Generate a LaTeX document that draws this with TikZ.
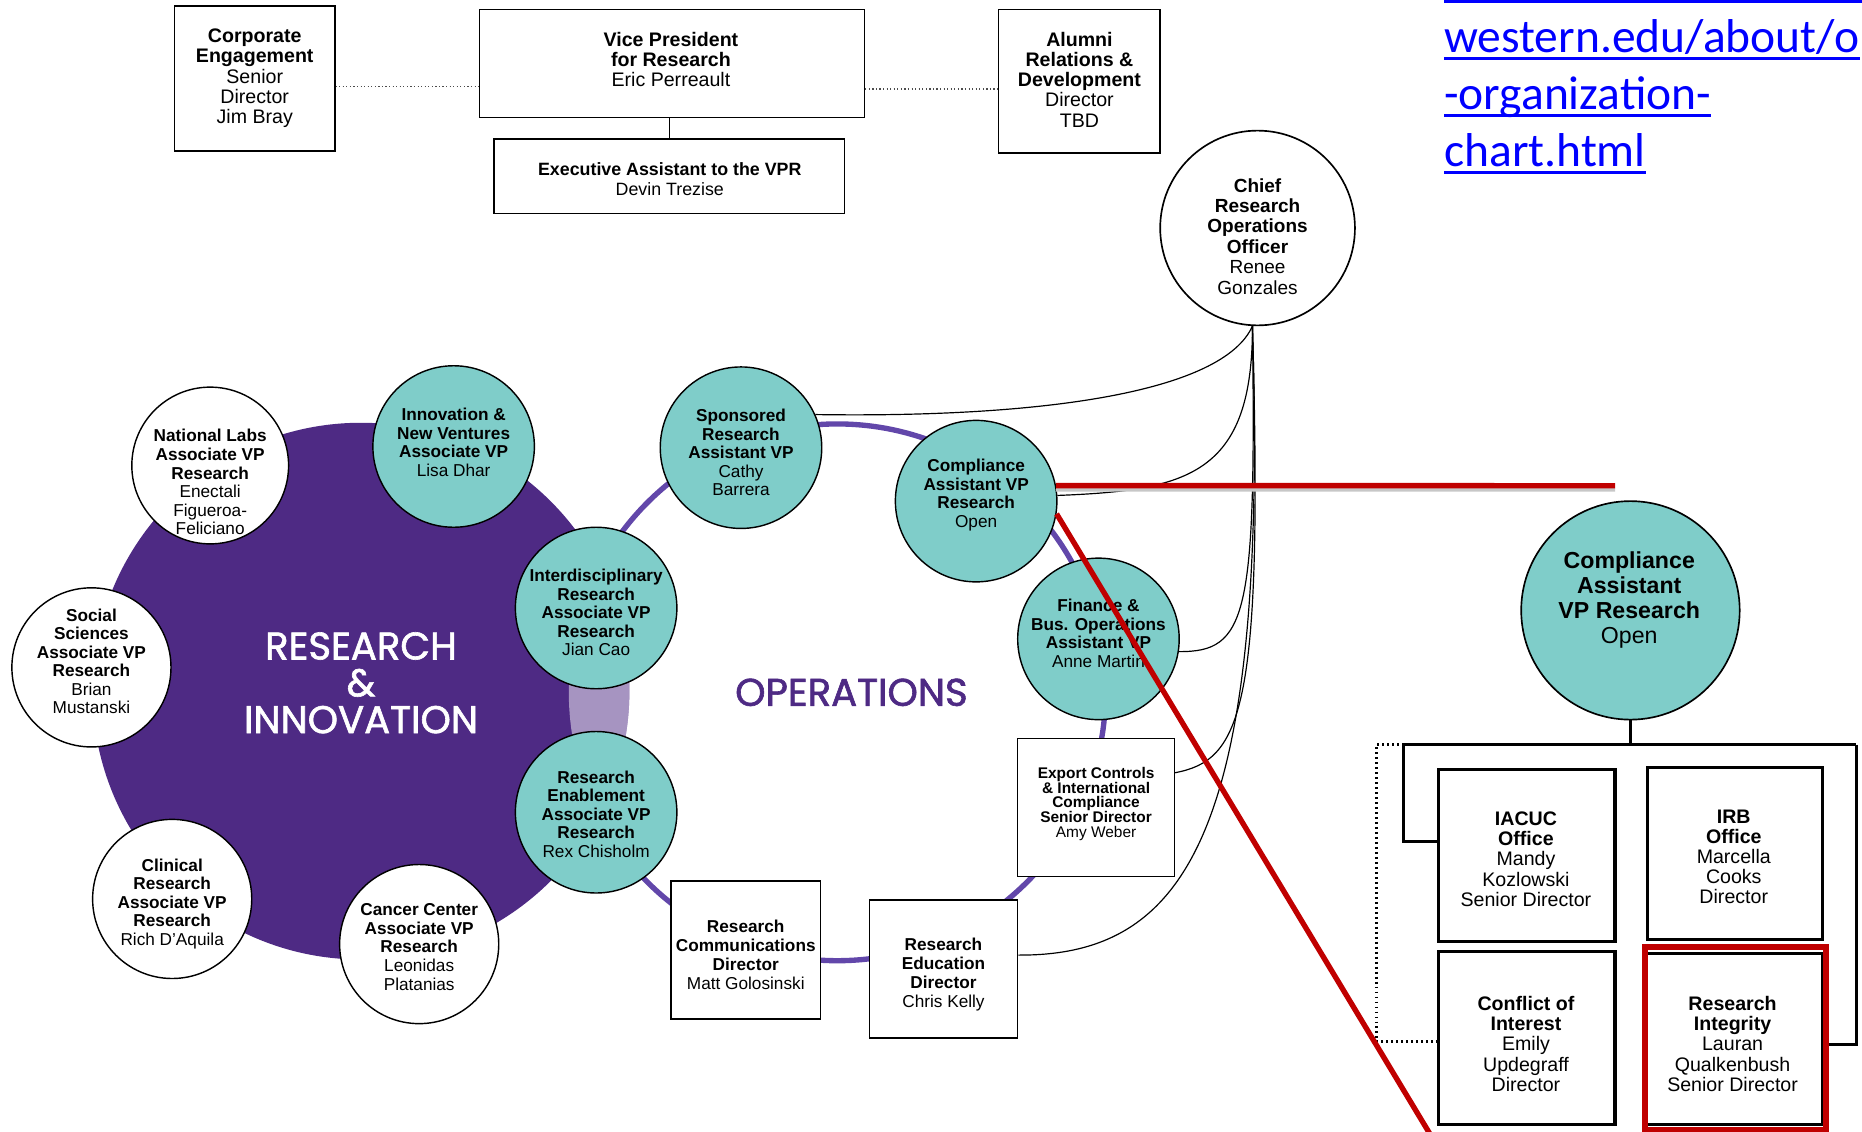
\documentclass[tikz,border=0pt]{standalone}
\usepackage{fontspec}
\setmainfont{Liberation Sans}
\newfontfamily\dispfont{Poppins}[BoldFont=Poppins, BoldFeatures={FakeBold=1.6}]
\newfontfamily\linkfont{Carlito}
\usetikzlibrary{calc}

\definecolor{nupurple}{HTML}{4E2A84}
\definecolor{ringpurple}{HTML}{6247AA}
\definecolor{tealfill}{HTML}{7FCDC9}
\definecolor{markred}{HTML}{C00000}
\definecolor{linkblue}{HTML}{0000FF}

\begin{document}
\begin{tikzpicture}[x=1pt,y=-1pt,
  circ/.style={circle, draw=black, line width=1.2pt, minimum size=136pt, inner sep=0pt},
  tealc/.style={circ, fill=tealfill},
  whitec/.style={circ, fill=white},
  box/.style={rectangle, draw=black, line width=1.2pt, fill=white, inner sep=0pt},
  orgbox/.style={box, line width=2.6pt},
  lbl/.style={align=center, inner sep=0pt, text=black},
  topfont/.style={font=\fontsize{16.5}{17}\selectfont},
  cfont/.style={font=\fontsize{14.5}{15.6}\selectfont},
  dispfnt/.style={font=\dispfont\bfseries\fontsize{32.5}{31}\selectfont},
  conn/.style={draw=black, line width=1pt},
  topdot/.style={draw=black!70, line width=1pt, dotted},
  orgline/.style={draw=black, line width=2.6pt},
  orgdot/.style={draw=black, line width=2pt, dash pattern=on 1.6pt off 2.6pt},
  redmark/.style={draw=markred, line width=4.5pt},
  redshadow/.style={draw=black!22, line width=3pt},
  linktxt/.style={anchor=base west, inner sep=0pt, text=linkblue, font=\linkfont\fontsize{40}{48}\selectfont}
]
\useasboundingbox (0,0) rectangle (1568,953);
\begin{scope}
\clip (0,0) rectangle (1568,953);

% ---------- operations ring and research & innovation disc ----------
\draw[ringpurple, line width=4.5pt] (705,583) circle[radius=226];
\fill[nupurple] (304,582) circle[radius=226];
\begin{scope}
  \clip (304,582) circle[radius=226];
  \fill[white, opacity=0.5] (705,583) circle[radius=226];
\end{scope}

\node[text=white, dispfnt, align=center, inner sep=0pt] (ritxt) at (304,575) {RESEARCH\\\&\\INNOVATION};
\node[text=nupurple, dispfnt, inner sep=0pt] (opstxt) at (717,583) {OPERATIONS};

% ---------- top row ----------
\coordinate (y73) at (0,73);
\coordinate (y75) at (0,75);
\node[box, minimum width=135pt, minimum height=122pt] (corp) at (214.5,66) {};
\node[box, minimum width=324pt, minimum height=91pt] (vp) at (566,53.5) {};
\node[box, minimum width=295pt, minimum height=63pt] (exec) at (563.5,148.5) {};
\node[box, minimum width=136pt, minimum height=121pt] (alum) at (909,68.5) {};

\node[lbl, topfont] (corpT) at (214.5,66) {\textbf{Corporate}\\\textbf{Engagement}\\Senior\\Director\\Jim Bray};
\node[lbl, topfont] (vpT) at (565,50) {\textbf{Vice President}\\\textbf{for Research}\\Eric Perreault};
\node[lbl, font=\fontsize{15}{17}\selectfont] (execT) at (564,151) {\textbf{Executive Assistant to the VPR}\\Devin Trezise};
\node[lbl, topfont] (alumT) at (909,67) {\textbf{Alumni}\\\textbf{Relations \&}\\\textbf{Development}\\Director\\TBD};

\draw[topdot] (corp.east |- y73) -- (vp.west |- y73);
\draw[topdot] (vp.east |- y75) -- (alum.west |- y75);
\draw[conn] (exec.north) -- (exec.north |- vp.south);

% chief research operations officer
\node[whitec, minimum size=164pt, line width=1.4pt] (chief) at (1059,192) {};
\node[lbl, font=\fontsize{16}{17.2}\selectfont] (chiefT) at (1059,199) {\textbf{Chief}\\\textbf{Research}\\\textbf{Operations}\\\textbf{Officer}\\Renee\\Gonzales};

% ---------- research & innovation units ----------
\node[whitec, minimum size=132pt] (natl) at (177,392) {};
\node[lbl, cfont] (natlT) at (177,406) {\textbf{National Labs}\\\textbf{Associate VP}\\\textbf{Research}\\Enectali\\Figueroa-\\Feliciano};
\node[tealc] (innov) at (382,376) {};
\node[lbl, cfont] (innovT) at (382,372.5) {\textbf{Innovation \&}\\\textbf{New Ventures}\\\textbf{Associate VP}\\Lisa Dhar};
\node[whitec, minimum size=134pt] (social) at (77,562) {};
\node[lbl, cfont] (socialT) at (77,557) {\textbf{Social}\\\textbf{Sciences}\\\textbf{Associate VP}\\\textbf{Research}\\Brian\\Mustanski};
\node[whitec, minimum size=134pt] (clin) at (145,757) {};
\node[lbl, cfont] (clinT) at (145,761) {\textbf{Clinical}\\\textbf{Research}\\\textbf{Associate VP}\\\textbf{Research}\\Rich D'Aquila};
\node[whitec, minimum size=134pt] (cancer) at (353,795) {};
\node[lbl, cfont] (cancerT) at (353,797.5) {\textbf{Cancer Center}\\\textbf{Associate VP}\\\textbf{Research}\\Leonidas\\Platanias};
\node[tealc] (interd) at (502,512) {};
\node[lbl, cfont] (interdT) at (502,516) {\textbf{Interdisciplinary}\\\textbf{Research}\\\textbf{Associate VP}\\\textbf{Research}\\Jian Cao};
\node[tealc] (enab) at (502,684) {};
\node[lbl, cfont] (enabT) at (502,685.5) {\textbf{Research}\\\textbf{Enablement}\\\textbf{Associate VP}\\\textbf{Research}\\Rex Chisholm};

% ---------- operations units ----------
\node[tealc] (spon) at (624,377) {};
\node[lbl, cfont] (sponT) at (624,381) {\textbf{Sponsored}\\\textbf{Research}\\\textbf{Assistant VP}\\Cathy\\Barrera};
\node[tealc] (comp) at (822,422) {};
\node[lbl, cfont] (compT) at (822,417) {\textbf{Compliance}\\\textbf{Assistant VP}\\\textbf{Research}\\Open};
\node[tealc] (fin) at (925,538) {};
\node[lbl, cfont] (finT) at (925,533.5) {\textbf{Finance \&}\\\textbf{Bus. Operations}\\\textbf{Assistant VP}\\Anne Martin};
\node[box, minimum width=132pt, minimum height=116pt] (export) at (923,680) {};
\node[lbl, font=\fontsize{13}{12.5}\selectfont] (exportT) at (923,677) {\textbf{Export Controls}\\\textbf{\& International}\\\textbf{Compliance}\\\textbf{Senior Director}\\Amy Weber};
\node[box, minimum width=126pt, minimum height=116pt] (rcomm) at (628,800) {};
\node[lbl, font=\fontsize{14.5}{16}\selectfont] (rcommT) at (628,804) {\textbf{Research}\\\textbf{Communications}\\\textbf{Director}\\Matt Golosinski};
\node[box, minimum width=125pt, minimum height=116pt] (redu) at (794.5,816) {};
\node[lbl, font=\fontsize{14.5}{16}\selectfont] (reduT) at (794.5,820.5) {\textbf{Research}\\\textbf{Education}\\\textbf{Director}\\Chris Kelly};

% reporting lines to the chief research operations officer
\coordinate (chiefS) at (chief.-93);
\draw[conn] (chiefS) .. controls (1030,330) and (880,352) .. (spon.24);
\draw[conn] (chiefS) .. controls (1055,400) and (1000,413) .. (comp.4);
\draw[conn] (chiefS) .. controls (1058,520) and (1050,549) .. (fin.-9);
\draw[conn] (chiefS) .. controls (1064,600) and (1045,640) .. ($(export.north east)!0.25!(export.south east)$);
\draw[conn] (chiefS) .. controls (1068,700) and (1000,805) .. ($(redu.north east)!0.4!(redu.south east)$);

% ---------- compliance detail ----------
\node[tealc, minimum size=184pt, line width=1.4pt] (bigcomp) at (1373,514) {};
\node[lbl, font=\fontsize{19.5}{21}\selectfont] (bigcompT) at (1372,505) {\textbf{Compliance}\\\textbf{Assistant}\\\textbf{VP Research}\\Open};

\node[orgbox, minimum width=149pt, minimum height=145pt] (iacuc) at (1285.5,720.5) {};
\node[orgbox, minimum width=148pt, minimum height=145pt] (irb) at (1461,718.5) {};
\node[orgbox, minimum width=149pt, minimum height=146pt] (coi) at (1285.5,874) {};
\node[orgbox, minimum width=149pt, minimum height=144pt] (rint) at (1460.5,875) {};

\node[lbl, topfont] (iacucT) at (1285,723.5) {\textbf{IACUC}\\\textbf{Office}\\Mandy\\Kozlowski\\Senior Director};
\node[lbl, topfont] (irbT) at (1460,721.5) {\textbf{IRB}\\\textbf{Office}\\Marcella\\Cooks\\Director};
\node[lbl, topfont] (coiT) at (1285,879) {\textbf{Conflict of}\\\textbf{Interest}\\Emily\\Updegraff\\Director};
\node[lbl, topfont] (rintT) at (1459,879) {\textbf{Research}\\\textbf{Integrity}\\Lauran\\Qualkenbush\\Senior Director};

\coordinate (barmid) at (1373,627);
\coordinate (barL) at (1159,627);
\coordinate (barR) at (1563,627);
\coordinate (barI) at (1182,627);
\draw[orgline] (bigcomp.south) -- (barmid);
\draw[orgline] (barI) -- (barR);
\draw[orgline] (barI) |- ($(iacuc.north west)!0.42!(iacuc.south west)$);
\draw[orgline] (barR) |- ($(rint.north east)!0.53!(rint.south east)$);
\draw[orgline] ($(irb.north east)!0.43!(irb.south east)$) -- ($(irb.north east)!0.43!(irb.south east)$ -| barR);
\draw[orgdot] (barI) -- (barL) |- ($(coi.north west)!0.52!(coi.south west)$);

% ---------- highlight marks ----------
\coordinate (redH) at (1360,409);
\coordinate (redD) at (1206,958);
\draw[redshadow] ([yshift=-3.5pt]comp.11) -- ([yshift=-3.5pt]redH);
\draw[redmark] (comp.11) -- (redH);
\draw[redmark] (comp.-9) -- (redD);
\draw[markred, line width=5pt] ($(rint.north west)+(0.5,-4)$) rectangle ($(rint.south east)+(1,3)$);

% ---------- link text ----------
\coordinate (topbarL) at (1216,1.2);
\coordinate (topbarR) at (1568,1.2);
\draw[linkblue, line width=2.6pt] (topbarL) -- (topbarR);
\node[linktxt] (link1) at (1216,44) {western.edu/about/o};
\node[linktxt] (link2) at (1216,92.5) {-organization-};
\node[linktxt] (link3) at (1216,140.5) {chart.html};
\foreach \n in {link1,link2,link3}
  \draw[linkblue, line width=2.6pt] ([yshift=-5pt]\n.base west) -- ([yshift=-5pt]\n.base east);
\end{scope}
\end{tikzpicture}
\end{document}
